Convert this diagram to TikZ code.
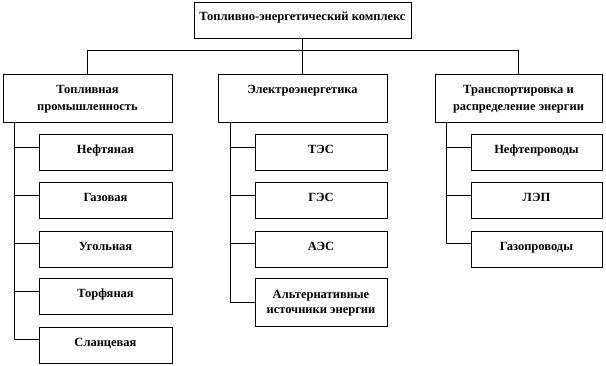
\documentclass[tikz,border=0pt]{standalone}
\usepackage{fontspec}
\setmainfont{Liberation Serif}
\tikzset{
  box/.style={draw, line width=1pt, inner sep=0pt, align=center,
    font=\bfseries\fontsize{12.5}{14}\selectfont},
  one/.style={text height=8pt, text depth=6pt},
  two/.style={font=\bfseries\fontsize{12.5}{17}\selectfont},
  conn/.style={line width=1pt},
  lvltwo/.style={box, two, minimum height=48pt},
  leaf/.style={box, one, minimum height=36pt},
}
\begin{document}
\begin{tikzpicture}[x=1pt,y=-1pt]
\fill[white] (0,0) rectangle (606,366);
\useasboundingbox (0,0) rectangle (606,366);

% top
\node[box, minimum width=217pt, minimum height=36pt, text height=7pt, text depth=7pt] (T) at (302.5,21) {Топливно-энергетический комплекс};

% level two
\node[lvltwo, minimum width=169pt] (A) at (87.5,99) {Топливная\\промышленность};
\node[lvltwo, minimum width=169pt] (B) at (302.5,99) {Электроэнергетика\\\vphantom{p}};
\node[lvltwo, minimum width=167pt] (C) at (518.5,99) {Транспортировка и\\распределение энергии};

% left leaves
\node[leaf, minimum width=133pt] (a1) at (105.5,153) {Нефтяная};
\node[leaf, minimum width=133pt] (a2) at (105.5,201) {Газовая};
\node[leaf, minimum width=133pt] (a3) at (105.5,249.5) {Угольная};
\node[leaf, minimum width=133pt] (a4) at (105.5,297) {Торфяная};
\node[leaf, minimum width=133pt] (a5) at (105.5,345.5) {Сланцевая};

% middle leaves
\node[leaf, minimum width=132pt] (b1) at (321,153) {ТЭС};
\node[leaf, minimum width=132pt] (b2) at (321,201) {ГЭС};
\node[leaf, minimum width=132pt] (b3) at (321,249.5) {АЭС};
\node[box, minimum width=132pt, minimum height=48pt, font=\bfseries\fontsize{12.5}{15}\selectfont] (b4) at (321,303) {Альтернативные\\источники энергии};

% right leaves
\node[leaf, minimum width=131pt] (c1) at (536.5,153) {Нефтепроводы};
\node[leaf, minimum width=131pt] (c2) at (536.5,201) {ЛЭП};
\node[leaf, minimum width=131pt] (c3) at (536.5,249.5) {Газопроводы};

% bus
\coordinate (bus) at (0,51);
\draw[conn] (T.south) -- (B.north);
\draw[conn] (A.north) -- (A.north |- bus) -- (C.north |- bus) -- (C.north);

% trunks
\coordinate (ta) at ([xshift=12pt]A.south west);
\coordinate (tb) at ([xshift=13pt]B.south west);
\coordinate (tc) at ([xshift=12pt]C.south west);

\foreach \n in {a1,a2,a3,a4,a5} {\coordinate (\n c) at ([yshift=5.5pt]\n.west);}
\foreach \n in {b1,b2,b3,c1,c2,c3} {\coordinate (\n c) at ([yshift=5.5pt]\n.west);}
\coordinate (b4c) at (b4.west);

\draw[conn] (ta) |- (a5c);
\foreach \n in {a1,a2,a3,a4} {\draw[conn] (ta |- \n c) -- (\n c);}
\draw[conn] (tb) |- (b4c);
\foreach \n in {b1,b2,b3} {\draw[conn] (tb |- \n c) -- (\n c);}
\draw[conn] (tc) |- (c3c);
\foreach \n in {c1,c2} {\draw[conn] (tc |- \n c) -- (\n c);}
\end{tikzpicture}
\end{document}
